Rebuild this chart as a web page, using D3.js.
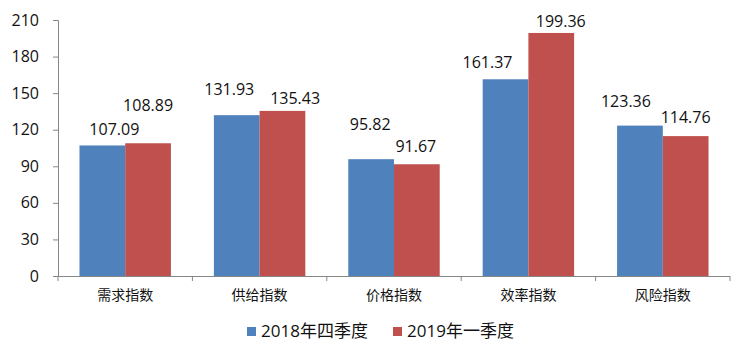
<!DOCTYPE html>
<html><head><meta charset="utf-8">
<script src="https://cdn.jsdelivr.net/npm/d3@7"></script>
<style>
html,body{margin:0;padding:0;background:#fff;}
svg{display:block;}
text{font-family:"Open Sans","Noto Sans CJK SC",sans-serif;fill:#111;}
</style></head>
<body>
<svg id="chart" width="750" height="358"></svg>
<script>
const categories = ["需求指数","供给指数","价格指数","效率指数","风险指数"];
const seriesNames = ["2018年四季度","2019年一季度"];
const values2018Q4 = [107.09,131.93,95.82,161.37,123.36];
const values2019Q1 = [108.89,135.43,91.67,199.36,114.76];
const yTicks = [0,30,60,90,120,150,180,210];
const colors = ["#4F81BD","#C0504D"];
// label placement tweaks (dx from bar centre, gap above bar top), as in the reference
const labelDx = [[12,-7.5,-1,-18,-14],[0,12.7,-1,9.5,0]];
const labelGap = [[10.5,20,29,11,19],[32,7.4,12.3,6,13]];

const seriesValues = [values2018Q4, values2019Q1];
const svg = d3.select("#chart");
const mLeft = 58, mRight = 730, mTop = 20, mBottom = 276;

const x = d3.scaleBand().domain(categories).range([mLeft,mRight]).padding(0);
const xi = d3.scaleBand().domain(seriesNames).range([0,x.bandwidth()]).paddingInner(0).paddingOuter(0.47);
const y = d3.scaleLinear().domain([0,210]).range([mBottom,mTop]);
const axisColor = "#868686";

// bars
seriesNames.forEach((s,si)=>{
  svg.append("g").selectAll("rect").data(categories).join("rect")
    .attr("x",c=>x(c)+xi(s))
    .attr("width",xi.bandwidth())
    .attr("y",(c,i)=>y(seriesValues[si][i]))
    .attr("height",(c,i)=>y(0)-y(seriesValues[si][i]))
    .attr("fill",colors[si]);
});

// y axis
const yAxis = svg.append("g").attr("transform",`translate(${mLeft},0)`)
  .call(d3.axisLeft(y).tickValues(yTicks).tickSize(5).tickPadding(14).tickFormat(d3.format("d")));
yAxis.select(".domain").attr("stroke",axisColor);
yAxis.selectAll(".tick line").attr("stroke",axisColor);
yAxis.selectAll(".tick text").style("font-size","16px").attr("fill","#111");

// x axis
const xAxis = svg.append("g").attr("transform",`translate(0,${mBottom})`)
  .call(d3.axisBottom(x).tickSize(0).tickPadding(14));
xAxis.select(".domain").attr("stroke",axisColor).attr("d",`M${mLeft},0.5H${mRight}`);
xAxis.selectAll(".tick text").style("font-size","14px").attr("fill","#111");
const bounds = categories.map(c=>x(c)).concat([x.range()[1]]);
xAxis.selectAll(".bound").data(bounds).join("line").attr("class","bound")
  .attr("x1",d=>d).attr("x2",d=>d).attr("y1",0).attr("y2",5).attr("stroke",axisColor);

// value labels
seriesNames.forEach((s,si)=>{
  svg.append("g").selectAll("text").data(categories).join("text")
    .attr("x",(c,i)=>x(c)+xi(s)+xi.bandwidth()/2+labelDx[si][i])
    .attr("y",(c,i)=>y(seriesValues[si][i])-labelGap[si][i])
    .attr("text-anchor","middle")
    .style("font-size","16px")
    .text((c,i)=>seriesValues[si][i].toFixed(2));
});

// legend
const legendX = [247,393];
const lg = svg.append("g");
seriesNames.forEach((s,si)=>{
  lg.append("rect").attr("x",legendX[si]).attr("y",327).attr("width",9).attr("height",9).attr("fill",colors[si]);
  lg.append("text").attr("x",legendX[si]+14).attr("y",337).style("font-size","17px").text(s);
});
</script>
</body></html>
